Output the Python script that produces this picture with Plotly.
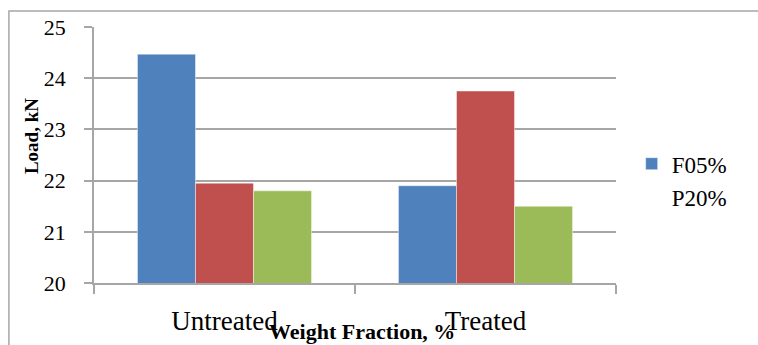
import plotly.graph_objects as go

# Load at failure by weight-fraction treatment
categories = ["Untreated", "Treated"]
series_names = ["F05%", "P20%", ""]
f05_load = [24.47, 21.9]
p20_load = [21.95, 23.75]
third_load = [21.8, 21.5]
y_ticks = [20, 21, 22, 23, 24, 25]

colors = ["#4F81BD", "#C0504D", "#9BBB59"]
serif = "Liberation Serif, Times New Roman, serif"
grey = "#a6a6a6"

fig = go.Figure()
fig.add_trace(go.Bar(x=categories, y=f05_load, name=series_names[0],
                     marker=dict(color=colors[0], line=dict(color="rgba(255,255,255,0.45)", width=1))))
fig.add_trace(go.Bar(x=categories, y=p20_load, name=series_names[1], showlegend=False,
                     marker=dict(color=colors[1], line=dict(color="rgba(255,255,255,0.45)", width=1))))
fig.add_trace(go.Bar(x=categories, y=third_load, name=series_names[2], showlegend=False,
                     marker=dict(color=colors[2], line=dict(color="rgba(255,255,255,0.45)", width=1))))
# legend entry for the second series is text only
fig.add_trace(go.Scatter(x=[None], y=[None], mode="markers", name=series_names[1],
                         marker=dict(color="rgba(0,0,0,0)", size=1)))

fig.update_layout(
    width=758, height=345,
    margin=dict(l=94, r=142, t=27, b=62, autoexpand=False),
    paper_bgcolor="white", plot_bgcolor="white",
    barmode="group", bargap=0.333, bargroupgap=0,
    font=dict(family=serif, color="black"),
    showlegend=True,
    legend=dict(x=1.03, y=0.55, xanchor="left", yanchor="top",
                font=dict(family=serif, size=23, color="black"),
                bgcolor="rgba(0,0,0,0)", tracegroupgap=0),
    xaxis=dict(
        type="category", showgrid=False, automargin=False,
        showline=True, linecolor=grey, linewidth=1.5,
        ticks="outside", tickson="boundaries", ticklen=9, tickcolor=grey, tickwidth=1.5,
        tickfont=dict(family=serif, size=27, color="black"),
        ticklabelstandoff=13,
    ),
    yaxis=dict(
        range=[20, 25], tickvals=y_ticks, automargin=False,
        showgrid=True, gridcolor=grey, gridwidth=1.5,
        showline=True, linecolor=grey, linewidth=1.5,
        ticks="outside", ticklen=8, tickcolor=grey, tickwidth=1.5,
        tickfont=dict(family=serif, size=22, color="black"),
        ticklabelstandoff=14,
        zeroline=False,
    ),
    shapes=[dict(type="rect", xref="paper", yref="paper",
                 x0=-0.163, y0=-0.4, x1=1.3, y1=1.0625,
                 line=dict(color=grey, width=1.5), fillcolor="rgba(0,0,0,0)", layer="below")],
    annotations=[
        dict(text="<b>Load, kN</b>", xref="paper", yref="paper", x=-0.1207, y=0.574,
             textangle=-90, showarrow=False, xanchor="center", yanchor="middle",
             font=dict(family=serif, size=19, color="black")),
        dict(text="<b>Weight Fraction, %</b>", xref="paper", yref="paper", x=0.514, y=-0.19,
             showarrow=False, xanchor="center", yanchor="middle",
             font=dict(family=serif, size=22, color="black")),
    ],
)

fig.write_html("out.html")
